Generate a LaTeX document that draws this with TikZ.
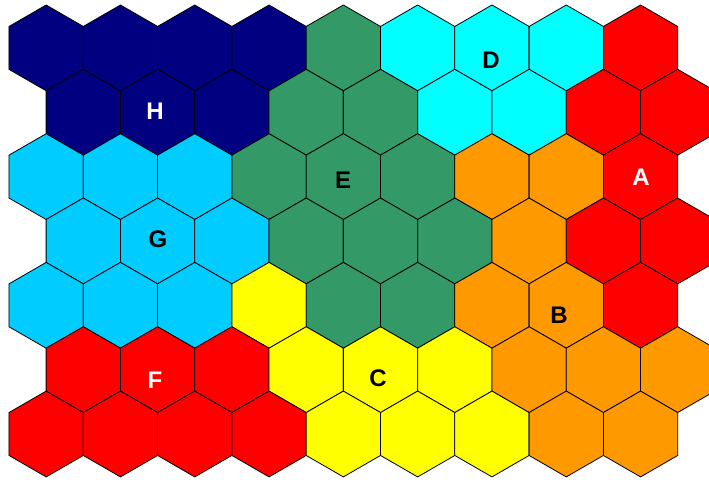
\documentclass[tikz,border=0pt]{standalone}
\usepackage{fontspec}
\setmainfont{Liberation Sans}
\definecolor{cnavy}{HTML}{000080}
\definecolor{cgreen}{HTML}{339966}
\definecolor{ccyan}{HTML}{00FFFF}
\definecolor{cred}{HTML}{FF0000}
\definecolor{csky}{HTML}{00CCFF}
\definecolor{corange}{HTML}{FF9900}
\definecolor{cyellow}{HTML}{FFFF00}
\tikzset{
  cell/.style={draw=black,line width=0.8pt,line join=miter},
  lbl/.style={font=\fontsize{24}{24}\selectfont\bfseries,inner sep=0pt}
}
\begin{document}
\begin{tikzpicture}[x=1pt,y=-1pt]
\useasboundingbox(0,0)rectangle(709,479);
\clip(0,0)rectangle(709,479);
% hexagon cells, one list of colours per row
\foreach \row/\cols in {
  0/{cnavy,cnavy,cnavy,cnavy,cgreen,ccyan,ccyan,ccyan,cred},
  1/{cnavy,cnavy,cnavy,cgreen,cgreen,ccyan,ccyan,cred,cred},
  2/{csky,csky,csky,cgreen,cgreen,cgreen,corange,corange,cred},
  3/{csky,csky,csky,cgreen,cgreen,cgreen,corange,cred,cred},
  4/{csky,csky,csky,cyellow,cgreen,cgreen,corange,corange,cred},
  5/{cred,cred,cred,cyellow,cyellow,cyellow,corange,corange,corange},
  6/{cred,cred,cred,cred,cyellow,cyellow,cyellow,corange,corange}}{
  \foreach \c[count=\k from 0] in \cols{
    \pgfmathsetmacro\cx{46.15+74.3*\k+37.15*mod(\row,2)}
    \pgfmathsetmacro\cy{47.9+64.35*\row}
    \filldraw[cell,fill=\c](\cx,\cy)+(90:42.9)--+(30:42.9)--+(-30:42.9)
      --+(-90:42.9)--+(-150:42.9)--+(150:42.9)--cycle;
  }
}
% cluster labels
\node[lbl](D) at(491,60){D};
\node[lbl,text=white](H) at(155,111){H};
\node[lbl,text=white](A) at(641,177){A};
\node[lbl](E) at(343,180){E};
\node[lbl](G) at(158,239){G};
\node[lbl](B) at(559,315){B};
\node[lbl,text=white](F) at(155,380){F};
\node[lbl](C) at(378,378){C};
\end{tikzpicture}
\end{document}
